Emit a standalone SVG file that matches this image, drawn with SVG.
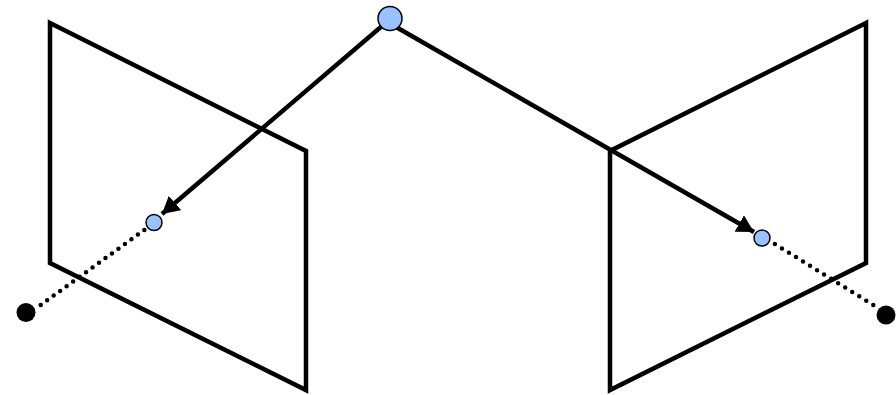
<svg xmlns="http://www.w3.org/2000/svg" width="896" height="395" viewBox="0 0 896 395">
<style>
.plane{fill:none;stroke:#000;stroke-width:4.500;stroke-linejoin:miter}
.ray{fill:none;stroke:#000;stroke-width:4.500}
.dot{fill:none;stroke:#000;stroke-width:4.500;stroke-linecap:round}
.pt{fill:#99c2ff;stroke:#000;stroke-width:1.500}
.focal{fill:#000}
</style>
<defs>
<marker id="arrow" markerUnits="userSpaceOnUse" markerWidth="19" markerHeight="21" refX="17" refY="9.500" orient="auto">
<path d="M0 0L17 9.500L0 19Z" fill="#000"/>
</marker>
</defs>
<g id="plane-left"><path class="plane" d="M50 23L306 151V390L50 263Z"/></g>
<g id="plane-right"><path class="plane" d="M866 23L610 151V390L866 263Z"/></g>
<g id="connectors">
<path class="ray" d="M382 26L162 214" marker-end="url(#arrow)"/>
<path class="ray" d="M396 27L754 232" marker-end="url(#arrow)"/>
<path class="dot" stroke-dasharray="0 8" d="M40.700 305L147 228"/>
<path class="dot" stroke-dasharray="0 8.270" d="M873.300 305L770 241"/>
</g>
<g id="point-top"><circle class="pt" cx="390" cy="18.500" r="12"/></g>
<g id="point-left"><circle class="pt" cx="154" cy="222.500" r="8"/></g>
<g id="point-right"><circle class="pt" cx="762" cy="238" r="8"/></g>
<g id="focal-left"><circle class="focal" cx="26" cy="312.500" r="9.500"/></g>
<g id="focal-right"><circle class="focal" cx="886" cy="315" r="9.500"/></g>
</svg>
